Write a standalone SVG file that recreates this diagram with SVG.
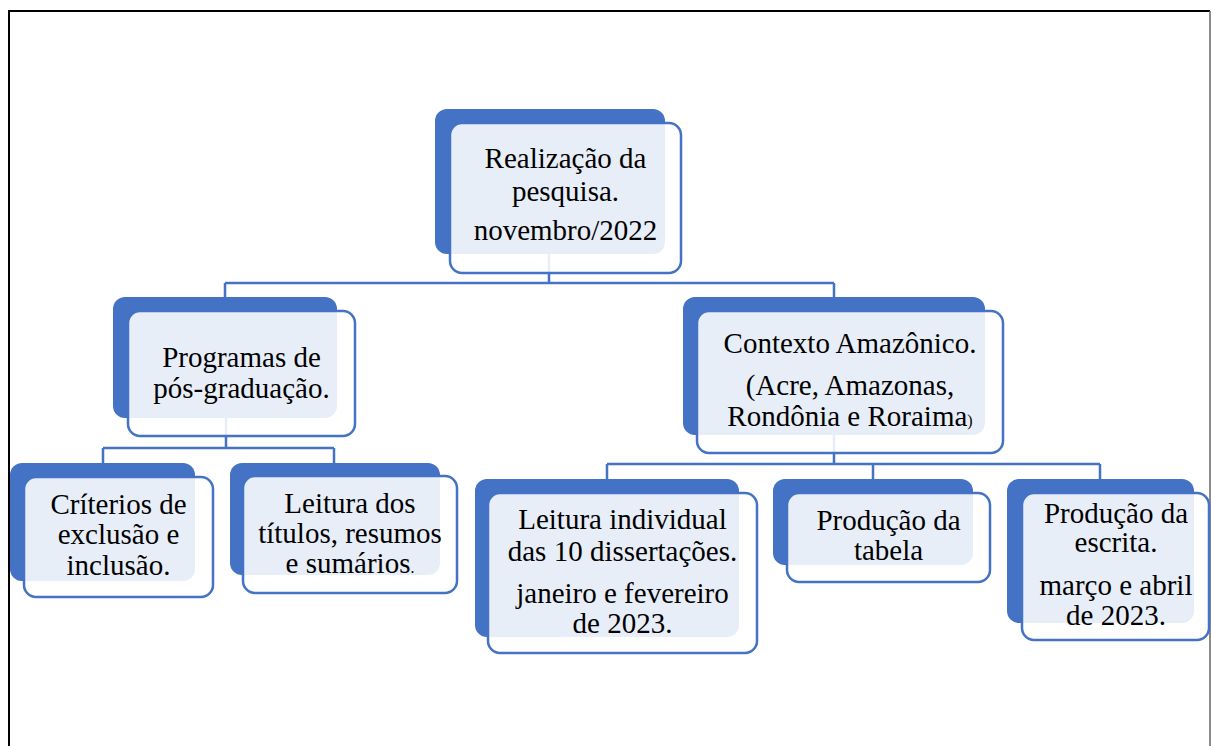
<svg xmlns="http://www.w3.org/2000/svg" width="1211" height="746" viewBox="0 0 1211 746">
<style>
.back{fill:#4472C4}
.front{fill:#ffffff;fill-opacity:0.88;stroke:#4472C4;stroke-width:2.5}
.conn{fill:none;stroke:#4472C4;stroke-width:2.5}
.t{font-family:"Liberation Serif","Times New Roman",serif;font-size:29px;fill:#000;text-anchor:middle}
.s{font-size:16px}
</style>
<rect x="0" y="0" width="1211" height="746" fill="#ffffff"/>
<g id="frame">
<path d="M9 746 V11 H1210" fill="none" stroke="#000" stroke-width="2"/>
<path d="M1210 11 V746" fill="none" stroke="#666" stroke-width="1.5"/>
</g>
<g id="connectors">
<path class="conn" d="M549 254 V283 M225 283 H834 M225 283 V297 M834 283 V297"/>
<path class="conn" d="M226 418 V448 M103 448 H334 M103 448 V463 M334 448 V463"/>
<path class="conn" d="M834 435 V464 M607 464 H1100 M607 464 V479 M873 464 V479 M1100 464 V479"/>
</g>
<g id="n-realizacao">
<rect class="back" x="435" y="109" width="230" height="145" rx="12"/>
<rect class="front" x="450" y="123" width="231" height="150" rx="12"/>
<text class="t" x="565.5" y="168">Realização da</text>
<text class="t" x="565.5" y="201">pesquisa.</text>
<text class="t" x="565.5" y="240">novembro/2022</text>
</g>
<g id="n-programas">
<rect class="back" x="113" y="297" width="224" height="121" rx="12"/>
<rect class="front" x="128" y="311" width="227" height="125" rx="12"/>
<text class="t" x="241.5" y="367">Programas de</text>
<text class="t" x="241.5" y="398">pós-graduação.</text>
</g>
<g id="n-criterios">
<rect class="back" x="10" y="463" width="185" height="118" rx="12"/>
<rect class="front" x="24" y="477" width="189" height="120" rx="12"/>
<text class="t" x="118.5" y="514">Críterios de</text>
<text class="t" x="118.5" y="544">exclusão e</text>
<text class="t" x="118.5" y="575">inclusão.</text>
</g>
<g id="n-leitura-dos">
<rect class="back" x="230" y="463" width="210" height="112" rx="12"/>
<rect class="front" x="243" y="476" width="214" height="117" rx="12"/>
<text class="t" x="350" y="513">Leitura dos</text>
<text class="t" x="350" y="543">títulos, resumos</text>
<text class="t" x="350" y="573">e sumários<tspan class="s">.</tspan></text>
</g>
<g id="n-contexto">
<rect class="back" x="683" y="297" width="302" height="138" rx="12"/>
<rect class="front" x="697" y="311" width="306" height="142" rx="12"/>
<text class="t" x="850" y="353">Contexto Amazônico.</text>
<text class="t" x="850" y="395">(Acre, Amazonas,</text>
<text class="t" x="850" y="426">Rondônia e Roraima<tspan class="s">)</tspan></text>
</g>
<g id="n-leitura-individual">
<rect class="back" x="475" y="479" width="264" height="158" rx="12"/>
<rect class="front" x="488" y="493" width="269" height="160" rx="12"/>
<text class="t" x="622.5" y="529">Leitura individual</text>
<text class="t" x="622.5" y="561">das 10 dissertações.</text>
<text class="t" x="622.5" y="603">janeiro e fevereiro</text>
<text class="t" x="622.5" y="633">de 2023.</text>
</g>
<g id="n-tabela">
<rect class="back" x="773" y="479" width="200" height="86" rx="12"/>
<rect class="front" x="787" y="493" width="203" height="89" rx="12"/>
<text class="t" x="888.5" y="530">Produção da</text>
<text class="t" x="888.5" y="560">tabela</text>
</g>
<g id="n-escrita">
<rect class="back" x="1007" y="479" width="187" height="144" rx="12"/>
<rect class="front" x="1022" y="493" width="187" height="147" rx="12"/>
<text class="t" x="1116" y="523">Produção da</text>
<text class="t" x="1116" y="552">escrita.</text>
<text class="t" x="1116" y="595">março e abril</text>
<text class="t" x="1116" y="625">de 2023.</text>
</g>
</svg>
